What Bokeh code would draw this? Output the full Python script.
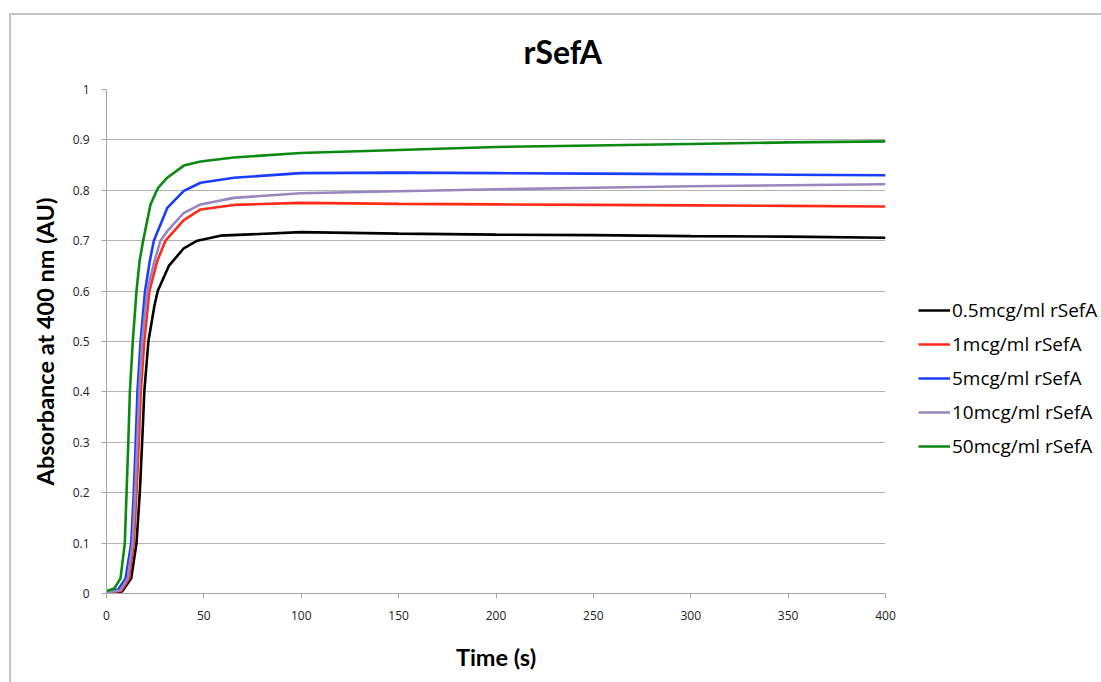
from bokeh.plotting import figure
from bokeh.models import Range1d, FixedTicker, Legend, LegendItem
from bokeh.embed import file_html
from bokeh.resources import INLINE

# ---- data ----
t_05 = [0, 8, 12.7, 15.4, 17.1, 18.3, 19.4, 21.5, 24.6, 26.3, 32.0, 39.7, 46.6, 58.5, 99.6, 150, 200, 250, 300, 350, 400]
a_05 = [0.001, 0.004, 0.03, 0.1, 0.2, 0.3, 0.4, 0.5, 0.571, 0.6, 0.65, 0.685, 0.7, 0.71, 0.717, 0.714, 0.712, 0.711, 0.709, 0.708, 0.706]

t_1 = [0, 7.5, 11.6, 14.0, 15.4, 16.6, 17.6, 19.4, 22.0, 26.0, 30.3, 39.7, 48.3, 65.4, 99.6, 150, 200, 250, 300, 350, 400]
a_1 = [0.002, 0.005, 0.03, 0.1, 0.2, 0.3, 0.4, 0.5, 0.6, 0.659, 0.7, 0.741, 0.762, 0.771, 0.775, 0.773, 0.772, 0.771, 0.770, 0.769, 0.768]

t_5 = [0, 6, 9.8, 12.7, 14.0, 15.0, 15.9, 17.5, 19.8, 22.2, 24.3, 31.2, 39.7, 48.3, 65.4, 99.6, 150, 200, 250, 300, 350, 400]
a_5 = [0.003, 0.008, 0.03, 0.1, 0.2, 0.3, 0.4, 0.5, 0.6, 0.659, 0.7, 0.765, 0.799, 0.815, 0.825, 0.834, 0.835, 0.834, 0.833, 0.832, 0.831, 0.830]

t_10 = [0, 7, 10.9, 13.4, 14.7, 15.8, 16.8, 18.3, 20.9, 24.6, 27.7, 31.2, 39.7, 48.3, 65.4, 99.6, 150, 200, 250, 300, 350, 400]
a_10 = [0.002, 0.006, 0.03, 0.1, 0.2, 0.3, 0.4, 0.5, 0.6, 0.659, 0.7, 0.719, 0.755, 0.772, 0.785, 0.794, 0.798, 0.802, 0.805, 0.808, 0.810, 0.812]

t_50 = [0, 4, 7.2, 9.4, 10.3, 11.2, 12.0, 13.5, 15.4, 17.0, 18.8, 22.6, 26.5, 31.2, 39.7, 48.3, 65.4, 99.6, 150, 200, 250, 300, 350, 400]
a_50 = [0.005, 0.01, 0.03, 0.1, 0.2, 0.3, 0.4, 0.5, 0.6, 0.66, 0.7, 0.772, 0.805, 0.825, 0.849, 0.857, 0.865, 0.874, 0.880, 0.886, 0.889, 0.892, 0.895, 0.897]

series_names = ["0.5mcg/ml rSefA", "1mcg/ml rSefA", "5mcg/ml rSefA", "10mcg/ml rSefA", "50mcg/ml rSefA"]
series_t = [t_05, t_1, t_5, t_10, t_50]
series_a = [a_05, a_1, a_5, a_10, a_50]
series_colors = ["#000000", "#ff2a17", "#1a3cff", "#9a86bf", "#0b8a12"]

x_ticks = [0, 50, 100, 150, 200, 250, 300, 350, 400]
y_ticks = [0, 0.1, 0.2, 0.3, 0.4, 0.5, 0.6, 0.7, 0.8, 0.9, 1]

title_text = "rSefA"
x_label = "Time (s)"
y_label = "Absorbance at 400 nm (AU)"

p = figure(frame_width=779, frame_height=504, output_backend="svg", toolbar_location=None,
           x_range=Range1d(0, 400), y_range=Range1d(0, 1),
           min_border_left=95, min_border_right=216, min_border_top=74, min_border_bottom=89,
           margin=(13, 0, 0, 9))
p.styles = {"border-top": "2px solid #c4c4c4", "border-left": "2px solid #c4c4c4"}
p.outline_line_color = None
p.background_fill_color = "white"
p.border_fill_color = "white"

p.title.text = title_text
p.title.align = "left"
p.title.vertical_align = "top"
p.title.text_font = "Lato"
p.title.text_font_style = "bold"
p.title.text_font_size = "32px"
p.title.text_color = "#000000"
p.title.offset = 417
p.title.standoff = 33

renderers = []
for t, a, c in zip(series_t, series_a, series_colors):
    r = p.line(t, a, line_color=c, line_width=2.6)
    renderers.append(r)

for ax in (p.xaxis[0], p.yaxis[0]):
    ax.axis_line_color = "#a6a6a6"
    ax.major_tick_line_color = "#a6a6a6"
    ax.major_tick_out = 5
    ax.major_tick_in = 0
    ax.minor_tick_line_color = None
    ax.major_label_text_font = "Open Sans"
    ax.major_label_text_font_size = "12px"
    ax.major_label_text_color = "#222222"
    ax.axis_label_text_font = "Lato"
    ax.axis_label_text_font_style = "bold"
    ax.axis_label_text_font_size = "23.5px"
    ax.axis_label_text_color = "#000000"

p.xaxis[0].ticker = FixedTicker(ticks=x_ticks)
p.yaxis[0].ticker = FixedTicker(ticks=y_ticks)
p.yaxis[0].major_label_overrides = {0: "0", 1: "1"}
p.xaxis[0].axis_label = x_label
p.yaxis[0].axis_label = y_label
p.xaxis[0].major_label_standoff = 12
p.yaxis[0].major_label_standoff = 12
p.xaxis[0].axis_label_standoff = 20
p.yaxis[0].axis_label_standoff = 11

p.xgrid.visible = False
p.ygrid.grid_line_color = "#b3b3b3"
p.ygrid.grid_line_width = 1

items = [LegendItem(label=n, renderers=[r]) for n, r in zip(series_names, renderers)]
legend = Legend(items=items, location=(33, 134))
legend.glyph_width = 32
legend.glyph_height = 20
legend.label_height = 20
legend.label_standoff = 2
legend.spacing = 8
legend.padding = 0
legend.margin = 0
legend.border_line_color = None
legend.background_fill_alpha = 0
legend.label_text_font = "Open Sans"
legend.label_text_font_size = "19px"
legend.label_text_color = "#000000"
p.add_layout(legend, "right")

open("out.html", "w").write(file_html(p, INLINE))
